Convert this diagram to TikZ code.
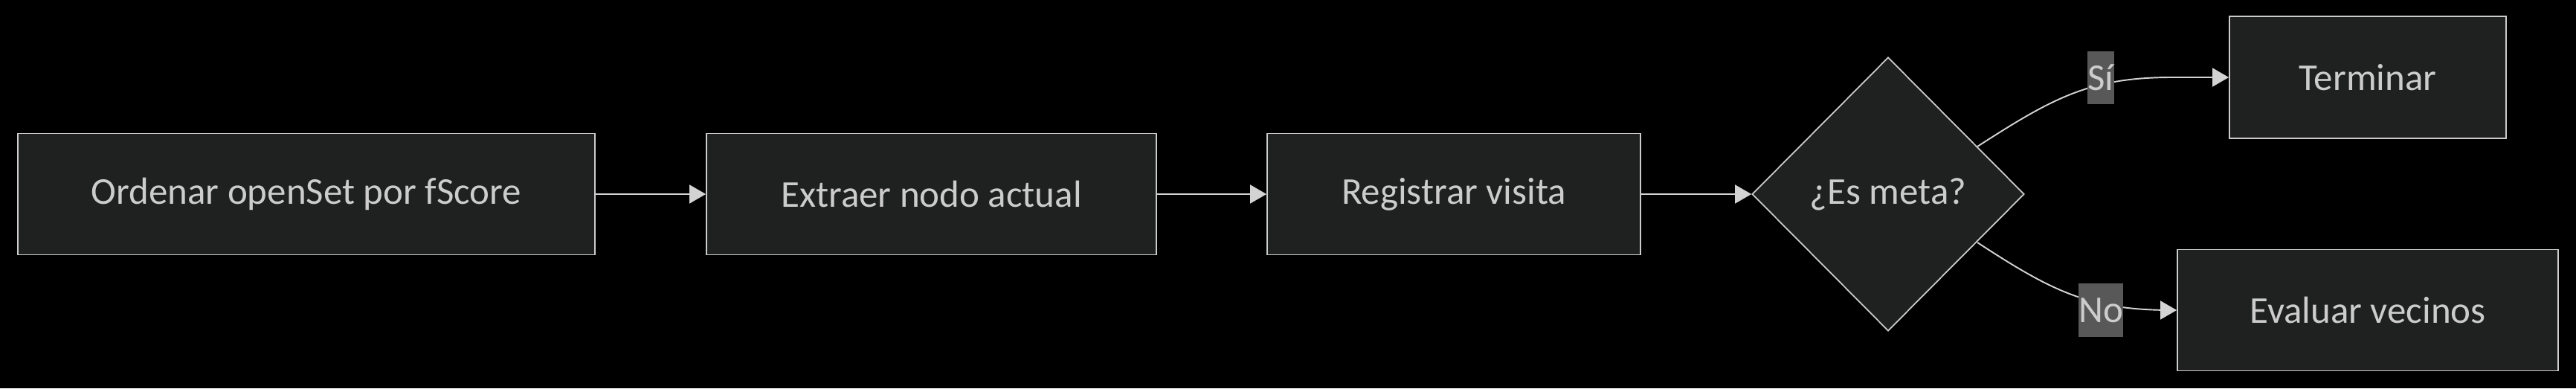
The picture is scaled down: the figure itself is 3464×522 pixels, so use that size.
\documentclass[tikz,border=0pt]{standalone}
\usepackage{fontspec}
\setmainfont{Carlito}
\usetikzlibrary{arrows.meta,shapes.geometric}
\definecolor{bgc}{HTML}{000000}
\definecolor{nodefill}{HTML}{1F2020}
\definecolor{nodeline}{HTML}{CCCCCC}
\definecolor{txt}{HTML}{CCCCCC}
\definecolor{edgec}{HTML}{D3D3D3}
\definecolor{lblbg}{HTML}{585858}
\tikzset{
  procbox/.style={draw=nodeline, fill=nodefill, line width=1.1pt, rectangle, inner sep=0pt,
    text=txt, font=\fontsize{29}{34}\selectfont, minimum height=3.26cm},
  decbox/.style={draw=nodeline, fill=nodefill, line width=1pt, diamond, inner sep=0pt,
    text=txt, font=\fontsize{29}{34}\selectfont, minimum width=7.32cm, minimum height=7.36cm},
  lbl/.style={fill=lblbg, inner sep=0pt, text=txt, font=\fontsize{29}{34}\selectfont},
  conn/.style={draw=edgec, line width=1.1pt, -{Triangle[length=0.44cm,width=0.5cm]}},
}
\begin{document}
\begin{tikzpicture}[x=0.02cm,y=0.02cm]
\fill[bgc] (0,0) rectangle (3464,522);
\useasboundingbox (0,0) rectangle (3464,522);
\node[procbox, minimum width=15.52cm] (ordenar) at (412,261) {Ordenar openSet por fScore};
\node[procbox, minimum width=12.10cm] (extraer) at (1252.5,261) {Extraer nodo actual};
\node[procbox, minimum width=10.04cm] (registrar) at (1955,261) {Registrar visita};
\node[decbox] (meta) at (2539,261) {¿Es meta?};
\node[procbox, minimum width=7.44cm, minimum height=3.28cm] (terminar) at (3184,418) {Terminar};
\node[procbox, minimum width=10.24cm] (evaluar) at (3184,105) {Evaluar vecinos};
\coordinate (s1) at (2659,325);
\coordinate (s2) at (2920,418);
\coordinate (n1) at (2659,196);
\coordinate (n2) at (2920,105);
\draw[conn] (ordenar) -- (extraer);
\draw[conn] (extraer) -- (registrar);
\draw[conn] (registrar) -- (meta);
\draw[conn] (s1) .. controls (2760,390) and (2810,418) .. (s2) -- (terminar.west);
\draw[conn] (n1) .. controls (2760,130) and (2810,105) .. (n2) -- (evaluar.west);
\node[lbl, minimum width=0.72cm, minimum height=1.42cm] (si) at (2825,417.5) {Sí};
\node[lbl, minimum width=1.12cm, minimum height=1.44cm] (no) at (2825,105) {No};
\end{tikzpicture}
\end{document}
